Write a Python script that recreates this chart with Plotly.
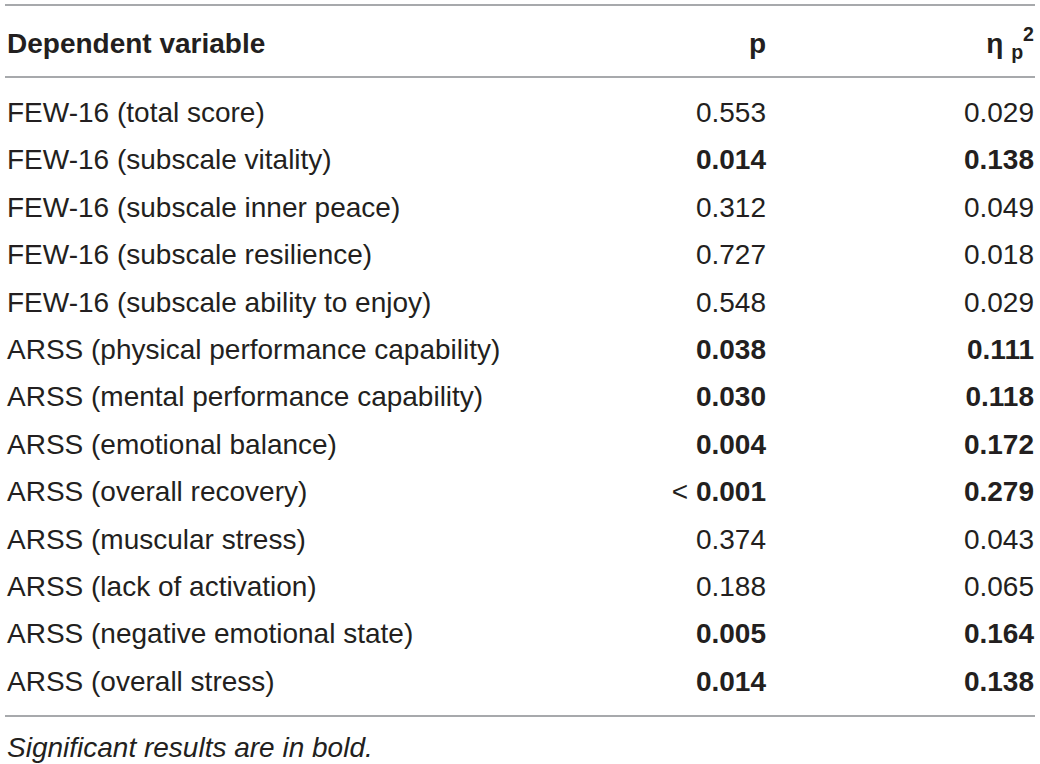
import plotly.graph_objects as go

# table contents
variables = [
    "FEW-16 (total score)",
    "FEW-16 (subscale vitality)",
    "FEW-16 (subscale inner peace)",
    "FEW-16 (subscale resilience)",
    "FEW-16 (subscale ability to enjoy)",
    "ARSS (physical performance capability)",
    "ARSS (mental performance capability)",
    "ARSS (emotional balance)",
    "ARSS (overall recovery)",
    "ARSS (muscular stress)",
    "ARSS (lack of activation)",
    "ARSS (negative emotional state)",
    "ARSS (overall stress)",
]
p_values = ["0.553", "0.014", "0.312", "0.727", "0.548", "0.038", "0.030",
            "0.004", "< 0.001", "0.374", "0.188", "0.005", "0.014"]
eta_values = ["0.029", "0.138", "0.049", "0.018", "0.029", "0.111", "0.118",
              "0.172", "0.279", "0.043", "0.065", "0.164", "0.138"]
significant = [False, True, False, False, False, True, True,
               True, True, False, False, True, True]

headers = ["Dependent variable", "p", "η <sub>p</sub><sup>2</sup>"]
footnote = "Significant results are in bold."

TEXT = "#231f20"
RULE = "#a7a9ac"
FONT = "Liberation Sans"
SIZE = 28


def fmt(v, bold):
    if v.startswith("<"):
        return "&lt; <b>" + v[2:] + "</b>"
    return "<b>" + v + "</b>" if bold else v


rows = list(range(len(variables)))
header_row = -1.46
foot_row = 13.4

# column anchors (x axis in page pixels)
x_left, x_p, x_eta = 7, 766, 1034

fig = go.Figure()


def text_trace(x, y, text, pos):
    return go.Scatter(
        x=x, y=y, mode="text", text=text, textposition=pos,
        textfont=dict(family=FONT, size=SIZE, color=TEXT),
        hoverinfo="skip", cliponaxis=False)


fig.add_trace(text_trace([x_left] * len(rows), rows, variables, "middle right"))
fig.add_trace(text_trace([x_p] * len(rows), rows,
                         [fmt(v, s) for v, s in zip(p_values, significant)], "middle left"))
fig.add_trace(text_trace([x_eta] * len(rows), rows,
                         [fmt(v, s) for v, s in zip(eta_values, significant)], "middle left"))

# header
fig.add_trace(text_trace([x_left], [header_row], ["<b>" + headers[0] + "</b>"], "middle right"))
fig.add_trace(text_trace([x_p, x_eta], [header_row, header_row],
                         ["<b>" + headers[1] + "</b>", "<b>" + headers[2] + "</b>"], "middle left"))

# footnote
fig.add_trace(text_trace([x_left], [foot_row], ["<i>" + footnote + "</i>"], "middle right"))

# horizontal rules
for yr in [-2.32, -0.80, 12.677]:
    fig.add_shape(type="line", xref="x", yref="y", x0=5, x1=1035, y0=yr, y1=yr,
                  line=dict(color=RULE, width=2))

fig.update_layout(
    width=1040, height=764,
    margin=dict(l=0, r=0, t=0, b=0),
    paper_bgcolor="white", plot_bgcolor="white",
    showlegend=False,
    xaxis=dict(range=[0, 1040], visible=False, fixedrange=True),
    yaxis=dict(range=[13.692, -2.426], visible=False, fixedrange=True),
)

# drop the default 8px page margin so the figure fills the window
fig.write_html("out.html", config={"displayModeBar": False},
               post_script="document.body.style.margin='0';")
